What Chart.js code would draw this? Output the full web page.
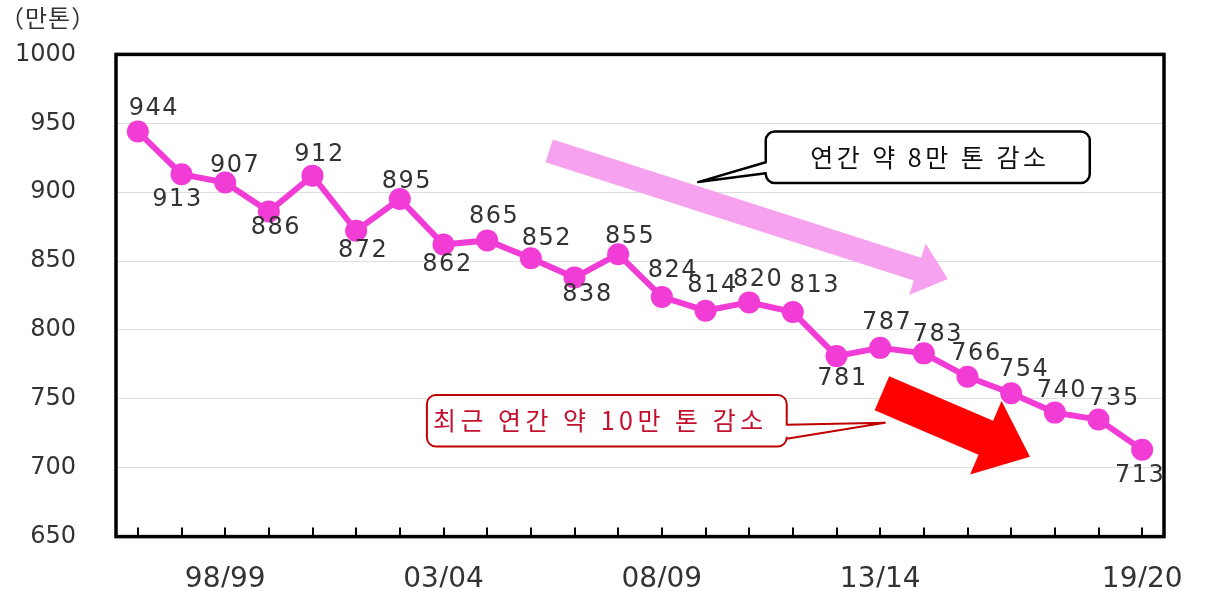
<!DOCTYPE html>
<html lang="ko">
<head>
<meta charset="utf-8">
<script src="https://cdn.jsdelivr.net/npm/chart.js@4"></script>
<style>
    html, body { margin: 0; padding: 0; background: #fff; }
    .chart-box { width: 1208px; height: 591px; position: relative; }
</style>
</head>
<body>
<div class="chart-box"><canvas id="riceChart"></canvas></div>
<script>
'use strict'

// 연도별 생산량 (만톤)
const years = ['96/97', '97/98', '98/99', '99/00', '00/01', '01/02', '02/03', '03/04',
    '04/05', '05/06', '06/07', '07/08', '08/09', '09/10', '10/11', '11/12',
    '12/13', '13/14', '14/15', '15/16', '16/17', '17/18', '18/19', '19/20']
const output = [944, 913, 907, 886, 912, 872, 895, 862, 865, 852, 838, 855,
    824, 814, 820, 813, 781, 787, 783, 766, 754, 740, 735, 713]
const shownYears = ['98/99', '03/04', '08/09', '13/14', '19/20']
const yRange = [650, 1000, 50]
const unitText = '（만톤）'
const trendText = '연간 약 8만 톤 감소'
const recentText = '최근 연간 약 10만 톤 감소'

// label shifts from each point (px)
const labelShift = [[16, -23], [-4, 26], [10, -17], [7, 16], [7, -21], [7, 20], [7, -17], [4, 20],
    [7, -24], [16, -20], [13, 17], [12, -17], [11, -26], [7, -25], [9, -23], [22, -26],
    [6, 23], [7, -25], [14, -19], [9, -23], [13, -24], [7, -22], [16, -21], [-2, 26]]

// annotation placement in data space: [category index, value]
const notes = {
    trendArrow: { from: [9.42, 930], to: [18.55, 837], shaft: 24, head: 54, headLen: 32, color: '#F7A2EF' },
    recentArrow: { from: [17.04, 754], to: [20.43, 708], shaft: 37, head: 80, headLen: 48, color: '#FF0000' },
    trendBox: { a: [14.38, 944], b: [21.8, 906.6], side: 'left', base: [921.7, 913.8], tip: [12.83, 907.3] },
    recentBox: { a: [6.62, 752.8], b: [14.86, 715.4], side: 'right', base: [731.2, 721.1], tip: [17.11, 732.6] }
}

function px(chart, p) {
    return [chart.scales.x.getPixelForValue(p[0]), chart.scales.y.getPixelForValue(p[1])]
}

function drawArrow(ctx, tail, tip, n) {
    const dx = tip[0] - tail[0], dy = tip[1] - tail[1]
    const len = Math.hypot(dx, dy)
    const ux = dx / len, uy = dy / len, nx = -uy, ny = ux
    const bx = tip[0] - ux * n.headLen, by = tip[1] - uy * n.headLen
    ctx.beginPath()
    ctx.moveTo(tail[0] + nx * n.shaft / 2, tail[1] + ny * n.shaft / 2)
    ctx.lineTo(bx + nx * n.shaft / 2, by + ny * n.shaft / 2)
    ctx.lineTo(bx + nx * n.head / 2, by + ny * n.head / 2)
    ctx.lineTo(tip[0], tip[1])
    ctx.lineTo(bx - nx * n.head / 2, by - ny * n.head / 2)
    ctx.lineTo(bx - nx * n.shaft / 2, by - ny * n.shaft / 2)
    ctx.lineTo(tail[0] - nx * n.shaft / 2, tail[1] - ny * n.shaft / 2)
    ctx.closePath()
    ctx.fillStyle = n.color
    ctx.fill()
}

function drawCallout(chart, n, stroke, lw) {
    const ctx = chart.ctx
    const [x1, y1] = px(chart, n.a)
    const [x2, y2] = px(chart, n.b)
    const yb1 = chart.scales.y.getPixelForValue(n.base[0])
    const yb2 = chart.scales.y.getPixelForValue(n.base[1])
    const tip = px(chart, n.tip)
    const r = 9
    ctx.beginPath()
    ctx.moveTo(x1 + r, y1)
    ctx.lineTo(x2 - r, y1)
    ctx.arcTo(x2, y1, x2, y1 + r, r)
    if (n.side === 'right') {
        ctx.lineTo(x2, yb1)
        ctx.lineTo(tip[0], tip[1])
        ctx.lineTo(x2, yb2)
    }
    ctx.lineTo(x2, y2 - r)
    ctx.arcTo(x2, y2, x2 - r, y2, r)
    ctx.lineTo(x1 + r, y2)
    ctx.arcTo(x1, y2, x1, y2 - r, r)
    if (n.side === 'left') {
        ctx.lineTo(x1, yb2)
        ctx.lineTo(tip[0], tip[1])
        ctx.lineTo(x1, yb1)
    }
    ctx.lineTo(x1, y1 + r)
    ctx.arcTo(x1, y1, x1 + r, y1, r)
    ctx.closePath()
    ctx.fillStyle = '#fff'
    ctx.fill()
    ctx.lineWidth = lw
    ctx.strokeStyle = stroke
    ctx.lineJoin = 'round'
    ctx.stroke()
    return [x1, y1, x2, y2]
}

const annotations = {
    id: 'annotations',
    beforeDatasetsDraw(chart) {
        const ctx = chart.ctx
        ctx.save()
        drawArrow(ctx, px(chart, notes.trendArrow.from), px(chart, notes.trendArrow.to), notes.trendArrow)
        drawArrow(ctx, px(chart, notes.recentArrow.from), px(chart, notes.recentArrow.to), notes.recentArrow)

        const b1 = drawCallout(chart, notes.trendBox, '#000', 2.5)
        ctx.font = '25px "Noto Sans CJK KR"'
        if ('letterSpacing' in ctx) ctx.letterSpacing = '3.5px'
        ctx.fillStyle = '#111'
        ctx.textAlign = 'center'
        ctx.textBaseline = 'middle'
        ctx.fillText(trendText, (b1[0] + b1[2]) / 2 + 2, (b1[1] + b1[3]) / 2)

        const b2 = drawCallout(chart, notes.recentBox, '#C00000', 2)
        ctx.font = '25px "Noto Sans CJK KR"'
        if ('letterSpacing' in ctx) ctx.letterSpacing = '4.5px'
        ctx.fillStyle = '#C3102F'
        ctx.textAlign = 'left'
        ctx.fillText(recentText, b2[0] + 6, (b2[1] + b2[3]) / 2)
        ctx.restore()
    }
}

const valueLabels = {
    id: 'valueLabels',
    afterDatasetsDraw(chart) {
        const { ctx, chartArea: a } = chart
        const meta = chart.getDatasetMeta(0)
        ctx.save()
        ctx.beginPath()
        ctx.rect(a.left, a.top, a.right - a.left, a.bottom - a.top)
        ctx.clip()
        ctx.font = '24px "DejaVu Sans"'
        if ('letterSpacing' in ctx) ctx.letterSpacing = '1.5px'
        ctx.fillStyle = '#333'
        ctx.textAlign = 'center'
        ctx.textBaseline = 'middle'
        meta.data.forEach((pt, i) => {
            const [dx, dy] = labelShift[i]
            ctx.fillText(String(output[i]), pt.x + dx, pt.y + dy)
        })
        ctx.restore()
    }
}

const frame = {
    id: 'frame',
    afterDraw(chart) {
        const { ctx, chartArea: a } = chart
        const xs = chart.scales.x
        ctx.save()
        ctx.strokeStyle = '#000'
        ctx.lineWidth = 2
        years.forEach((y, i) => {
            const x = Math.round(xs.getPixelForValue(i))
            ctx.beginPath()
            ctx.moveTo(x, a.bottom)
            ctx.lineTo(x, a.bottom - 9)
            ctx.stroke()
        })
        ctx.lineWidth = 3.5
        ctx.strokeRect(a.left, a.top, a.right - a.left, a.bottom - a.top)

        ctx.font = '24px "Noto Sans CJK KR"'
        if ('letterSpacing' in ctx) ctx.letterSpacing = '1px'
        ctx.fillStyle = '#333'
        ctx.textAlign = 'left'
        ctx.textBaseline = 'middle'
        ctx.fillText(unitText, 0, 18)
        ctx.restore()
    }
}

document.addEventListener('DOMContentLoaded', () => {
    const ctx = document.getElementById('riceChart').getContext('2d')
    new Chart(ctx, {
        type: 'line',
        data: {
            labels: years,
            datasets: [{
                data: output,
                borderColor: '#F23CD6',
                backgroundColor: '#F23CD6',
                borderWidth: 6,
                pointRadius: 11,
                pointBorderWidth: 0,
                pointBackgroundColor: '#F23CD6',
                tension: 0
            }]
        },
        options: {
            animation: false,
            responsive: true,
            maintainAspectRatio: false,
            devicePixelRatio: 1,
            layout: { padding: { top: 53, right: 44, left: 0, bottom: 0 } },
            plugins: { legend: { display: false }, tooltip: { enabled: false } },
            scales: {
                x: {
                    offset: true,
                    grid: { display: false },
                    border: { display: false },
                    afterFit(scale) { scale.height = 51 },
                    ticks: {
                        autoSkip: false,
                        maxRotation: 0,
                        padding: 18,
                        color: '#333',
                        font: { family: 'DejaVu Sans', size: 28 },
                        callback(v, i) { return shownYears.includes(years[i]) ? years[i] : '' }
                    }
                },
                y: {
                    min: yRange[0],
                    max: yRange[1],
                    border: { display: false },
                    grid: { color: '#DEDEDE', lineWidth: 1, drawTicks: false },
                    afterFit(scale) { scale.width = 116 },
                    ticks: {
                        stepSize: yRange[2],
                        padding: 40,
                        color: '#333',
                        font: { family: 'DejaVu Sans', size: 24 },
                        callback(v) { return String(v) }
                    }
                }
            }
        },
        plugins: [annotations, valueLabels, frame]
    })
})
</script>
</body>
</html>
